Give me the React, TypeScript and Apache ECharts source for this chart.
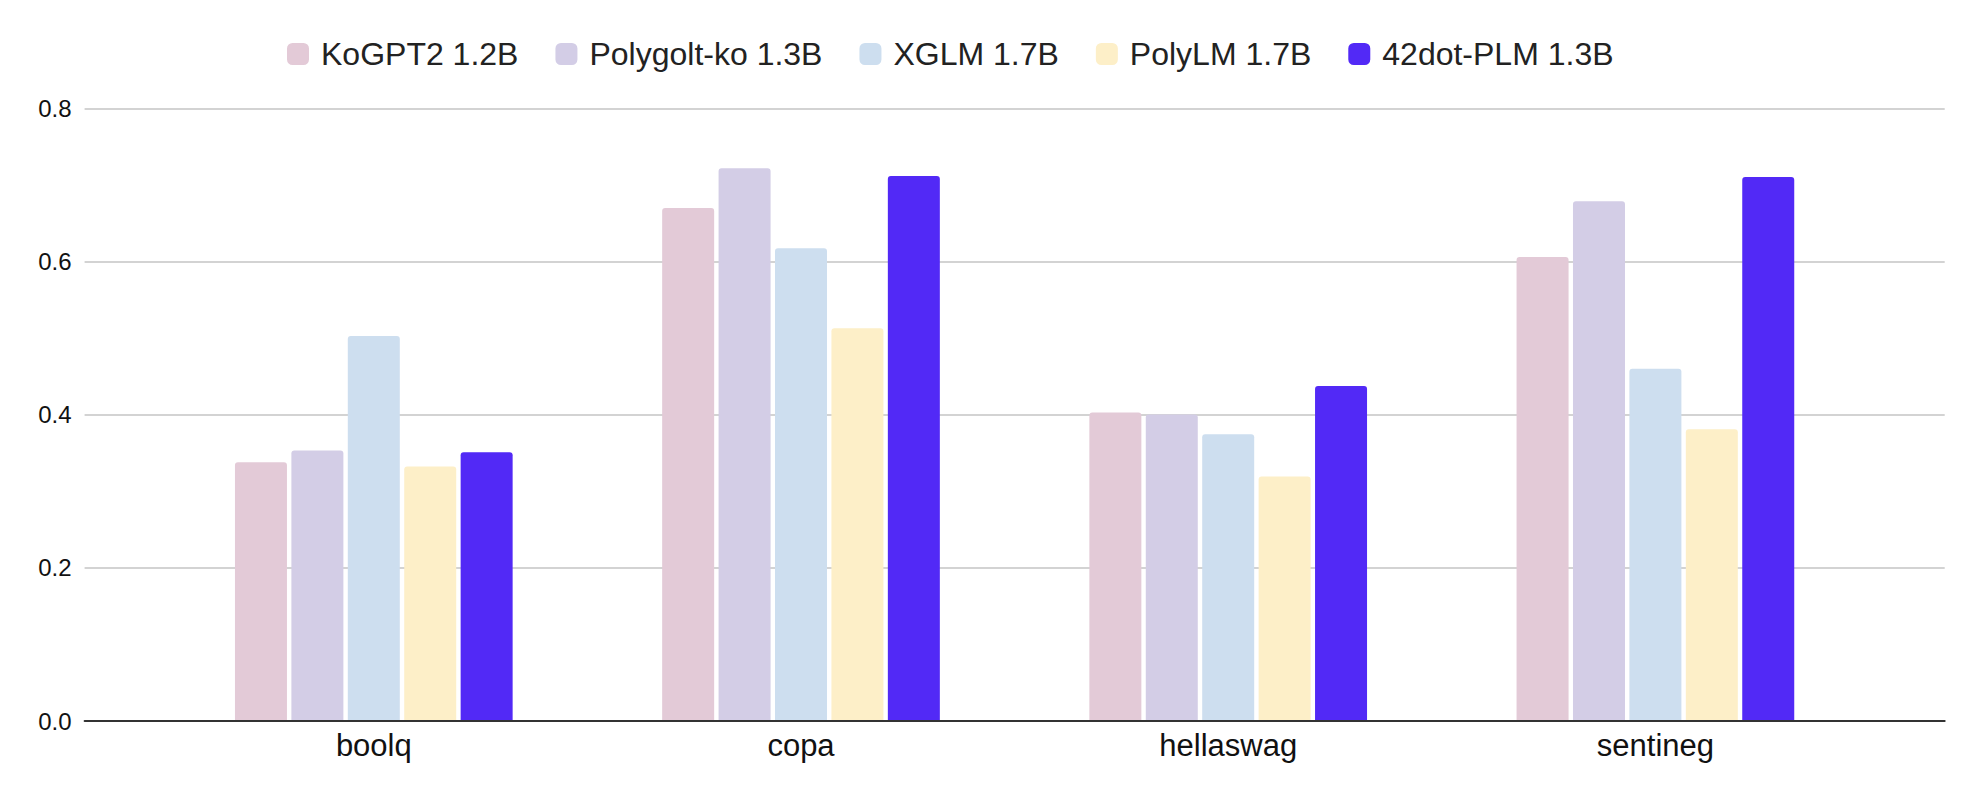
import React, { useEffect, useRef } from "react";
import * as echarts from "echarts";

const categories = ["boolq", "copa", "hellaswag", "sentineg"];
const seriesNames = ["KoGPT2 1.2B", "Polygolt-ko 1.3B", "XGLM 1.7B", "PolyLM 1.7B", "42dot-PLM 1.3B"];
const koGPT2 = [0.338, 0.67, 0.403, 0.606];
const polyglotKo = [0.3535, 0.722, 0.4005, 0.679];
const xglm = [0.503, 0.6175, 0.3745, 0.46];
const polyLM = [0.3326, 0.513, 0.3195, 0.381];
const dotPLM = [0.351, 0.712, 0.4375, 0.7105];
const colors = ["#E3CAD7", "#D3CDE6", "#CDDEEF", "#FDEFC8", "#5229F6"];
const yTicks = { min: 0, max: 0.8, interval: 0.2 };

const FONT = "'Liberation Sans', Arial, Helvetica, sans-serif";

export default function App() {
  const ref = useRef<HTMLDivElement>(null);
  useEffect(() => {
    document.body.style.margin = "0";
    const chart = echarts.init(ref.current!, null, { renderer: "svg" });
    const values = [koGPT2, polyglotKo, xglm, polyLM, dotPLM];
    const top = 108.6;
    const bottom = 804 - 721;
    chart.setOption({
      animation: false,
      backgroundColor: "#ffffff",
      textStyle: { fontFamily: FONT },
      legend: {
        left: 282,
        top: 33,
        itemWidth: 22,
        itemHeight: 22,
        itemGap: 37,
        icon: "roundRect",
        data: seriesNames,
        textStyle: { fontSize: 32, color: "#222", fontFamily: FONT, padding: [0, 0, 0, 7] },
      },
      grid: [
        { left: 84.6, right: 35.3, top, bottom, containLabel: false },
        { left: 160.2, right: 111, top, bottom, containLabel: false },
      ],
      xAxis: [
        {
          gridIndex: 0,
          type: "value",
          min: 0,
          max: 1,
          z: 5,
          axisLine: { show: true, lineStyle: { color: "#333", width: 2 } },
          axisTick: { show: false },
          axisLabel: { show: false },
          splitLine: { show: false },
        },
        {
          gridIndex: 1,
          type: "category",
          data: categories,
          axisLine: { show: false },
          axisTick: { show: false },
          axisLabel: { fontSize: 31, color: "#111", margin: 9, fontFamily: FONT },
        },
      ],
      yAxis: [
        {
          gridIndex: 0,
          type: "value",
          min: yTicks.min,
          max: yTicks.max,
          interval: yTicks.interval,
          axisLine: { show: false },
          axisTick: { show: false },
          axisLabel: {
            fontSize: 24,
            color: "#111",
            margin: 13,
            fontFamily: FONT,
            formatter: (v: number) => v.toFixed(1),
          },
          splitLine: { show: true, lineStyle: { color: "#c4c4c4", width: 1.5 } },
        },
        {
          gridIndex: 1,
          type: "value",
          min: yTicks.min,
          max: yTicks.max,
          interval: yTicks.interval,
          axisLine: { show: false },
          axisTick: { show: false },
          axisLabel: { show: false },
          splitLine: { show: false },
        },
      ],
      series: seriesNames.map((name, i) => ({
        name,
        type: "bar",
        xAxisIndex: 1,
        yAxisIndex: 1,
        data: values[i],
        barWidth: 52,
        barGap: "8.5%",
        itemStyle: { color: colors[i], borderRadius: [3, 3, 0, 0] },
      })),
    });
    return () => chart.dispose();
  }, []);
  return <div ref={ref} style={{ width: 1980, height: 804 }} />;
}
